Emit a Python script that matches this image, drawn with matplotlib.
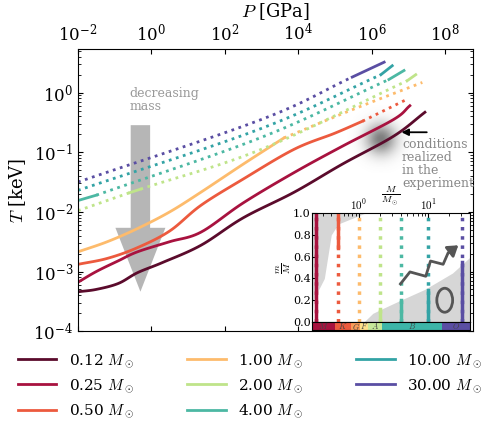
import numpy as np
import matplotlib
matplotlib.use("Agg")
import matplotlib.pyplot as plt
from matplotlib.patches import Ellipse, FancyArrowPatch
from matplotlib.lines import Line2D

plt.rcParams['font.family'] = ['DejaVu Serif']
plt.rcParams['mathtext.fontset'] = 'cm'

masses = [0.12, 0.25, 0.5, 1.0, 2.0, 4.0, 10.0, 30.0]
colors = ['#5b0b2c', '#a8123f', '#ec5a3e', '#fdbb6c', '#bfe48a', '#4cb8a3', '#33a3a5', '#5a4ea3']
labels = [r'%.2f $M_\odot$' % m for m in masses]

# segments: (style, log10 P, log10 T)
segments = {
    0.12: [('-', [-2, -1.5, -0.9, -0.38, 0.3, 1.35, 2.5, 3.89, 5.2, 6.6, 7.45],
            [-3.34, -3.30, -3.2, -3.02, -2.85, -2.56, -2.1, -1.67, -1.2, -0.73, -0.33])],
    0.25: [('-', [-2, -1.5, -0.9, -0.38, 0.5, 1.35, 2.5, 3.89, 5.2, 6.6, 7.04],
            [-3.18, -3.0, -2.82, -2.67, -2.5, -2.34, -1.85, -1.34, -0.9, -0.45, -0.22])],
    0.5: [('-', [-2, -1.2, -0.38, 0.5, 1.35, 2.5, 3.89, 5.0, 5.75],
           [-2.88, -2.78, -2.6, -2.32, -1.89, -1.45, -0.95, -0.68, -0.48]),
          (':', [5.75, 6.97], [-0.48, -0.11])],
    1.0: [('-', [-2, -1.2, -0.38, 0.5, 1.35, 2.5, 3.61],
           [-2.67, -2.5, -2.28, -2.0, -1.67, -1.2, -0.76]),
          (':', [3.61, 5.5, 7.38], [-0.76, -0.28, 0.17])],
    2.0: [(':', [-2, -0.6], [-1.98, -1.68]), ('-', [-0.6, -0.3], [-1.68, -1.62]),
          (':', [-0.3, 3, 6.97], [-1.62, -0.95, 0.2]), ('-', [6.97, 7.2], [0.2, 0.3])],
    4.0: [('-', [-2, -1.5], [-1.81, -1.72]), (':', [-1.5, 3, 6.47], [-1.72, -0.75, 0.22]),
          ('-', [6.47, 6.88], [0.22, 0.37])],
    10.0: [(':', [-2, 3, 6.25], [-1.64, -0.6, 0.3]), ('-', [6.25, 6.56], [0.3, 0.45])],
    30.0: [(':', [-2, 3, 5.47], [-1.5, -0.45, 0.26]), ('-', [5.47, 6.34], [0.26, 0.51])],
}


def smooth(x, y, n=12):
    # Catmull-Rom rendering through the read points
    x = np.asarray(x, float); y = np.asarray(y, float)
    if len(x) < 3:
        return x, y
    P = np.column_stack([x, y])
    P = np.vstack([2 * P[0] - P[1], P, 2 * P[-1] - P[-2]])
    out = []
    t = np.linspace(0, 1, n, endpoint=False)[:, None]
    for i in range(1, len(P) - 2):
        p0, p1, p2, p3 = P[i - 1], P[i], P[i + 1], P[i + 2]
        out.append(0.5 * ((2 * p1) + (-p0 + p2) * t + (2 * p0 - 5 * p1 + 4 * p2 - p3) * t ** 2
                          + (-p0 + 3 * p1 - 3 * p2 + p3) * t ** 3))
    out.append(P[-2][None, :])
    o = np.vstack(out)
    return o[:, 0], o[:, 1]


fig = plt.figure(figsize=(5.0, 4.34), dpi=100)
ax = fig.add_axes([0.156, 0.237, 0.79, 0.65])
for m, c in zip(masses, colors):
    for st, lp, lt in segments[m]:
        sx, sy = smooth(lp, lt)
        ax.plot(10 ** sx, 10 ** sy, ls=st, color=c, lw=2)
ax.set_xscale('log'); ax.set_yscale('log')
ax.set_xlim(1e-2, 10 ** 8.76); ax.set_ylim(1e-4, 10 ** 0.73)
ax.xaxis.tick_top(); ax.xaxis.set_label_position('top')
ax.tick_params(which='both', direction='in', top=True, bottom=True, left=True, right=True, labelsize=12)
ax.set_xticks([1e-2, 1e0, 1e2, 1e4, 1e6, 1e8])
ax.set_xlabel(r'$P$ [GPa]', fontsize=13)
ax.set_ylabel(r'$T$ [keV]', fontsize=13)

# blob
g = np.linspace(-1, 1, 100)
X, Y = np.meshgrid(g, g)
Z = np.exp(-(X ** 2 + Y ** 2) / 0.2)
img = np.zeros((100, 100, 4)); img[..., :3] = 0.4; img[..., 3] = Z * 0.85
ax.imshow(img, extent=[0.68, 0.85, 0.56, 0.80], transform=ax.transAxes, aspect='auto', zorder=0)
ax.annotate('', xy=(0.812, 0.705), xytext=(0.89, 0.705), xycoords='axes fraction',
            arrowprops=dict(arrowstyle='-|>', color='black', lw=1.3))
ax.text(0.82, 0.685, 'conditions\nrealized\nin the\nexperiment', transform=ax.transAxes,
        fontsize=9, color='#888888', va='top', linespacing=1.0)
# decreasing mass arrow
ax.add_patch(FancyArrowPatch((0.158, 0.74), (0.158, 0.13), transform=ax.transAxes,
             arrowstyle='simple,head_width=1.8,head_length=2.3,tail_width=0.7',
             mutation_scale=20, color='#aaaaaa', alpha=0.85, lw=0))
ax.text(0.13, 0.865, 'decreasing\nmass', transform=ax.transAxes, fontsize=9,
        color='#999999', va='top', linespacing=1.0)

# inset
inset_colors = colors[1:]
solid_ranges = [(0, 1), (0.68, 1), None, (0, 0.12), (0, 0.2), (0, 0.29), (0, 0.55)]
inset_pos = [-0.62, -0.30, 0.0, 0.30, 0.60, 0.99, 1.48]
ia = fig.add_axes([0.624, 0.258, 0.316, 0.251])
ia.set_xscale('log'); ia.set_xlim(0.21, 40); ia.set_ylim(0, 1)
envx = [-0.68, -0.66, -0.50, -0.45, -0.40, -0.3, 0.09]
envy = [0.0, 0.2, 0.4, 0.6, 0.8, 0.9, 1.0]
ia.fill_betweenx(envy, 0.21, 10 ** np.array(envx), color='#d6d6d6', lw=0)
corex = [0.07, 0.2, 0.33, 0.6, 0.95, 1.35, 1.61]
corey = [0.0, 0.08, 0.12, 0.2, 0.3, 0.45, 0.6]
ia.fill_between(10 ** np.array(corex), 0, corey, color='#d6d6d6', lw=0)
for p, c, r in zip(inset_pos, inset_colors, solid_ranges):
    x = 10 ** p
    ia.plot([x, x], [0, 1], ls=':', color=c, lw=2.5)
    if r:
        ia.plot([x, x], r, ls='-', color=c, lw=2.5)
ia.xaxis.tick_top()
ia.set_xticks([1, 10]); ia.set_xticklabels([r'$10^0$', r'$10^1$'])
ia.set_yticks(np.arange(0, 1.01, 0.2))
ia.set_yticklabels(['%.1f' % v for v in np.arange(0, 1.01, 0.2)])
ia.tick_params(which='both', direction='in', labelsize=8, pad=1)
ia.set_ylabel(r'$\frac{m}{M}$', fontsize=10, labelpad=0)
ia.text(0.5, 1.13, r'$\frac{M}{M_\odot}$', transform=ia.transAxes, ha='center', fontsize=10)
zx = [0.56, 0.62, 0.72, 0.75, 0.83, 0.86]
zy = [0.35, 0.46, 0.42, 0.56, 0.53, 0.63]
ia.plot(zx, zy, color='#555555', lw=2, transform=ia.transAxes)
ia.annotate('', xy=(0.94, 0.72), xytext=(0.85, 0.62), xycoords='axes fraction',
            arrowprops=dict(arrowstyle='-|>,head_width=0.4,head_length=0.6', color='#555555', lw=2))
ia.add_patch(Ellipse((0.84, 0.2), 0.1, 0.22, transform=ia.transAxes, fill=False, ec='#555555', lw=2))

sa = fig.add_axes([0.624, 0.24, 0.316, 0.018])
sa.set_xscale('log'); sa.set_xlim(0.21, 40); sa.set_ylim(0, 1)
spec_edges = [-0.68, -0.35, -0.11, 0.015, 0.135, 0.33, 1.2, 1.61]
spec_names = ['M', 'K', 'G', 'F', 'A', 'B', 'O']
spec_cols = ['#a8123f', '#ec5a3e', '#fa9b58', '#fee08b', '#c6e89a', '#3db5a8', '#5a4ea3']
for i, (n, c) in enumerate(zip(spec_names, spec_cols)):
    a, b = 10 ** spec_edges[i], 10 ** spec_edges[i + 1]
    sa.axvspan(a, b, color=c, lw=0)
    sa.text(np.sqrt(a * b), 0.45, '$' + n + '$', ha='center', va='center', fontsize=6, color='#444444')
sa.set_xticks([]); sa.set_yticks([]); sa.minorticks_off()

handles = [Line2D([], [], color=c, lw=2) for c in colors]
fig.legend(handles, labels, ncol=3, loc='lower center', bbox_to_anchor=(0.5, 0.0),
           frameon=False, fontsize=11, handlelength=2.5, columnspacing=3.5, labelspacing=0.5)
fig.savefig('out.png', dpi=100)
